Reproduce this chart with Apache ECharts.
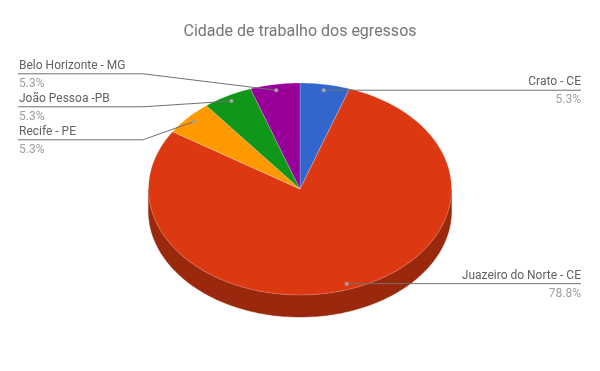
<!DOCTYPE html>
<html>
<head>
<meta charset="utf-8">
<script src="https://cdn.jsdelivr.net/npm/echarts@6/dist/echarts.min.js"></script>
<style>
  html, body { margin: 0; padding: 0; background: #fff; }
  #chart { width: 600px; height: 371px; }
</style>
</head>
<body>
<div id="chart"></div>
<script>
const cities = ['Crato - CE', 'Juazeiro do Norte - CE', 'Recife - PE', 'João Pessoa -PB', 'Belo Horizonte - MG']
const shares = [5.3, 78.8, 5.3, 5.3, 5.3]
const colors = ['#3366cc', '#dc3912', '#ff9900', '#109618', '#990099']
const sideColors = ['#24478f', '#9a280d', '#b36b00', '#0b6911', '#6b006b']

// pie geometry (3d ellipse look)
const pie = { cy: 189, rx: 151.5, ry: 106, depth: 22, dotR: 0.945 }
const labelX = { left: 19, right: 581, elbow: 143 }
const rowGap = 33

const total = shares.reduce((a, b) => a + b, 0)

const pt = (cx, t, r, dy) => [cx + pie.rx * r * Math.sin(t), pie.cy + (dy || 0) - pie.ry * r * Math.cos(t)]

// angles + label anchors for every slice
const layout = (width) => {
  const cx = width / 2
  let acc = 0
  const items = shares.map((v, i) => {
    const start = acc / total * Math.PI * 2
    acc += v
    const end = acc / total * Math.PI * 2
    const mid = (start + end) / 2
    const dot = pt(cx, mid, pie.dotR)
    return { i, start, end, mid, dot, side: Math.sin(mid) < 0 ? 'left' : 'right', lineY: dot[1] }
  })
  // stack left labels around their mean
  const left = items.filter(d => d.side === 'left').sort((a, b) => a.dot[1] - b.dot[1])
  if (left.length) {
    const mean = left.reduce((s, d) => s + d.dot[1], 0) / left.length
    left.forEach((d, k) => { d.lineY = mean + 2.5 + (k - (left.length - 1) / 2) * rowGap })
  }
  return { cx, items }
}

const arc = (cx, a, b, dy) => {
  const pts = []
  const n = Math.max(2, Math.ceil((b - a) / (Math.PI / 180)))
  for (let k = 0; k <= n; k++) pts.push(pt(cx, a + (b - a) * k / n, 1, dy))
  return pts
}

const renderItem = (params, api) => {
  const { cx, items } = layout(api.getWidth())
  const d = items[params.dataIndex]
  const children = []

  // side wall (front half only)
  const a = Math.max(d.start, Math.PI / 2)
  const b = Math.min(d.end, Math.PI * 1.5)
  if (a < b) {
    const topEdge = arc(cx, a, b, 0)
    const bottomEdge = arc(cx, a, b, pie.depth).reverse()
    children.push({
      type: 'polygon',
      shape: { points: topEdge.concat(bottomEdge) },
      style: { fill: sideColors[d.i], stroke: sideColors[d.i], lineWidth: 0.5 },
      z2: 1
    })
  }

  // top face
  children.push({
    type: 'polygon',
    shape: { points: [[cx, pie.cy]].concat(arc(cx, d.start, d.end, 0)) },
    style: { fill: colors[d.i], stroke: 'rgba(255,255,255,0.35)', lineWidth: 0.6 },
    z2: 2
  })

  // leader line + labels
  const linePts = d.side === 'left'
    ? [[labelX.left - 1, d.lineY], [labelX.elbow, d.lineY], d.dot]
    : [d.dot, [labelX.right, d.lineY]]
  const tx = d.side === 'left' ? labelX.left : labelX.right
  children.push(
    { type: 'polyline', shape: { points: linePts }, style: { stroke: '#707070', lineWidth: 1, fill: null }, z2: 10 },
    { type: 'circle', shape: { cx: d.dot[0], cy: d.dot[1], r: 2 }, style: { fill: '#a3a3a3' }, z2: 11 },
    {
      type: 'text', z2: 11,
      style: { text: cities[d.i], x: tx, y: d.lineY - 2, align: d.side, verticalAlign: 'bottom', fill: '#616161', fontSize: 12, fontFamily: 'Roboto' }
    },
    {
      type: 'text', z2: 11,
      style: { text: api.value(0).toFixed(1) + '%', x: tx, y: d.lineY + 4, align: d.side, verticalAlign: 'top', fill: '#9e9e9e', fontSize: 12, fontFamily: 'Roboto' }
    }
  )
  return { type: 'group', children }
}

const chart = echarts.init(document.getElementById('chart'))
chart.setOption({
  animation: false,
  backgroundColor: '#fff',
  title: {
    text: 'Cidade de trabalho dos egressos',
    left: 'center',
    top: 19,
    textStyle: { fontSize: 16, fontWeight: 'normal', color: '#757575', fontFamily: 'Roboto' }
  },
  series: [{
    type: 'custom',
    coordinateSystem: 'none',
    data: shares.map((v, i) => ({ name: cities[i], value: [v] })),
    renderItem
  }]
})
</script>
</body>
</html>
